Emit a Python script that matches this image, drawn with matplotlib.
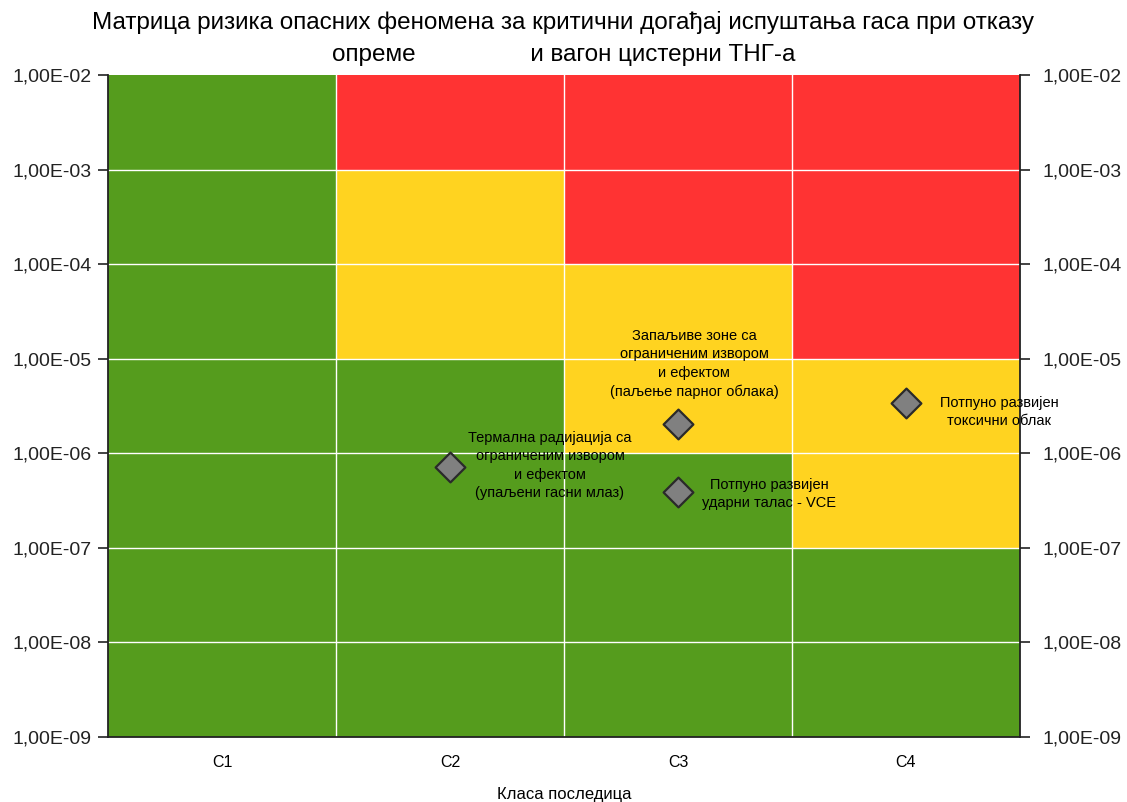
import matplotlib
matplotlib.use("Agg")
import matplotlib.pyplot as plt
from matplotlib.colors import ListedColormap
from matplotlib.ticker import FixedLocator, FuncFormatter, NullLocator
import numpy as np

plt.rcParams['font.family'] = ['Liberation Sans', 'DejaVu Sans']

# Consequence classes (columns) and frequency decades (rows)
classes = ["C1", "C2", "C3", "C4"]
decades = [-9, -8, -7, -6, -5, -4, -3, -2]

# Risk zone per decade row (bottom to top) and class: 0 = acceptable, 1 = ALARP, 2 = unacceptable
zones = [
    [0, 0, 0, 0],   # 1e-9 .. 1e-8
    [0, 0, 0, 0],   # 1e-8 .. 1e-7
    [0, 0, 0, 1],   # 1e-7 .. 1e-6
    [0, 0, 1, 1],   # 1e-6 .. 1e-5
    [0, 1, 1, 2],   # 1e-5 .. 1e-4
    [0, 1, 2, 2],   # 1e-4 .. 1e-3
    [0, 2, 2, 2],   # 1e-3 .. 1e-2
]
zone_colors = ["#559c1d", "#ffd320", "#ff3333"]

# Hazardous phenomena: class index, frequency, label
event_class = [1, 2, 2, 3]
event_freq = [7.1e-7, 2.05e-6, 3.9e-7, 3.4e-6]
event_label = [
    "Термална радијација са\nограниченим извором\nи ефектом\n(упаљени гасни млаз)",
    "Запаљиве зоне са\nограниченим извором\nи ефектом\n(паљење парног облака)",
    "Потпуно развијен\nударни талас - VCE",
    "Потпуно развијен\nтоксични облак",
]
label_offset_px = [(100, 2), (16, 60), (91, -2), (93, -9)]

fig = plt.figure(figsize=(11.27, 8.02), dpi=100)
ax = fig.add_axes([0.0958, 0.081, 0.8092, 0.8255])

x_edges = np.arange(len(classes) + 1)
y_edges = [10.0 ** d for d in decades]
ax.pcolormesh(x_edges, y_edges, np.array(zones), cmap=ListedColormap(zone_colors),
              vmin=-0.5, vmax=2.5, shading='flat', zorder=0)

ax.set_yscale('log')
ax.set_ylim(y_edges[0], y_edges[-1])
ax.set_xlim(0, len(classes))

fmt = FuncFormatter(lambda v, p: ("%.2E" % v).replace('.', ','))
ax.yaxis.set_major_locator(FixedLocator(y_edges))
ax.yaxis.set_minor_locator(NullLocator())
ax.yaxis.set_major_formatter(fmt)

ax.set_xticks(np.arange(len(classes)) + 0.5)
ax.set_xticklabels(classes)
ax.tick_params(axis='x', length=0, pad=13, labelsize=11.5)
ax.tick_params(axis='y', length=7, width=1.2, pad=5, labelsize=14,
               color='#222222', labelcolor='#222222')

# white cell borders
for xv in x_edges[1:-1]:
    ax.axvline(xv, color='white', lw=1.0, zorder=1)
for yv in y_edges[1:-1]:
    ax.axhline(yv, color='white', lw=1.0, zorder=1)

for side in ['left', 'right', 'bottom']:
    ax.spines[side].set_color('#222222')
    ax.spines[side].set_linewidth(1.3)
ax.spines['top'].set_visible(False)

ax2 = ax.twinx()
ax2.set_yscale('log')
ax2.set_ylim(ax.get_ylim())
ax2.yaxis.set_major_locator(FixedLocator(y_edges))
ax2.yaxis.set_minor_locator(NullLocator())
ax2.yaxis.set_major_formatter(fmt)
ax2.tick_params(axis='y', length=7, width=1.2, pad=9, labelsize=14,
                color='#222222', labelcolor='#222222')
for side in ['left', 'right', 'bottom', 'top']:
    ax2.spines[side].set_visible(False)

xs = np.array(event_class) + 0.5
ax2.scatter(xs, event_freq, marker='D', s=230, facecolor='#808080',
            edgecolor='#2a2a2a', linewidth=1.6, zorder=5)
for x, y, lab, off in zip(xs, event_freq, event_label, label_offset_px):
    ax2.annotate(lab, (x, y), xytext=off, textcoords='offset pixels',
                 ha='center', va='center', fontsize=10.5, linespacing=1.4,
                 color='black', annotation_clip=False, zorder=6)

ax.set_xlabel("Класа последица", fontsize=12, labelpad=12)

fig.text(0.5, 0.972, "Матрица ризика опасних феномена за критични догађај испуштања гаса при отказу",
         ha='center', va='center', fontsize=17.5)
fig.text(0.5, 0.931, "опреме                 и вагон цистерни ТНГ-а",
         ha='center', va='center', fontsize=17.5)

fig.savefig("out.png", dpi=100)
